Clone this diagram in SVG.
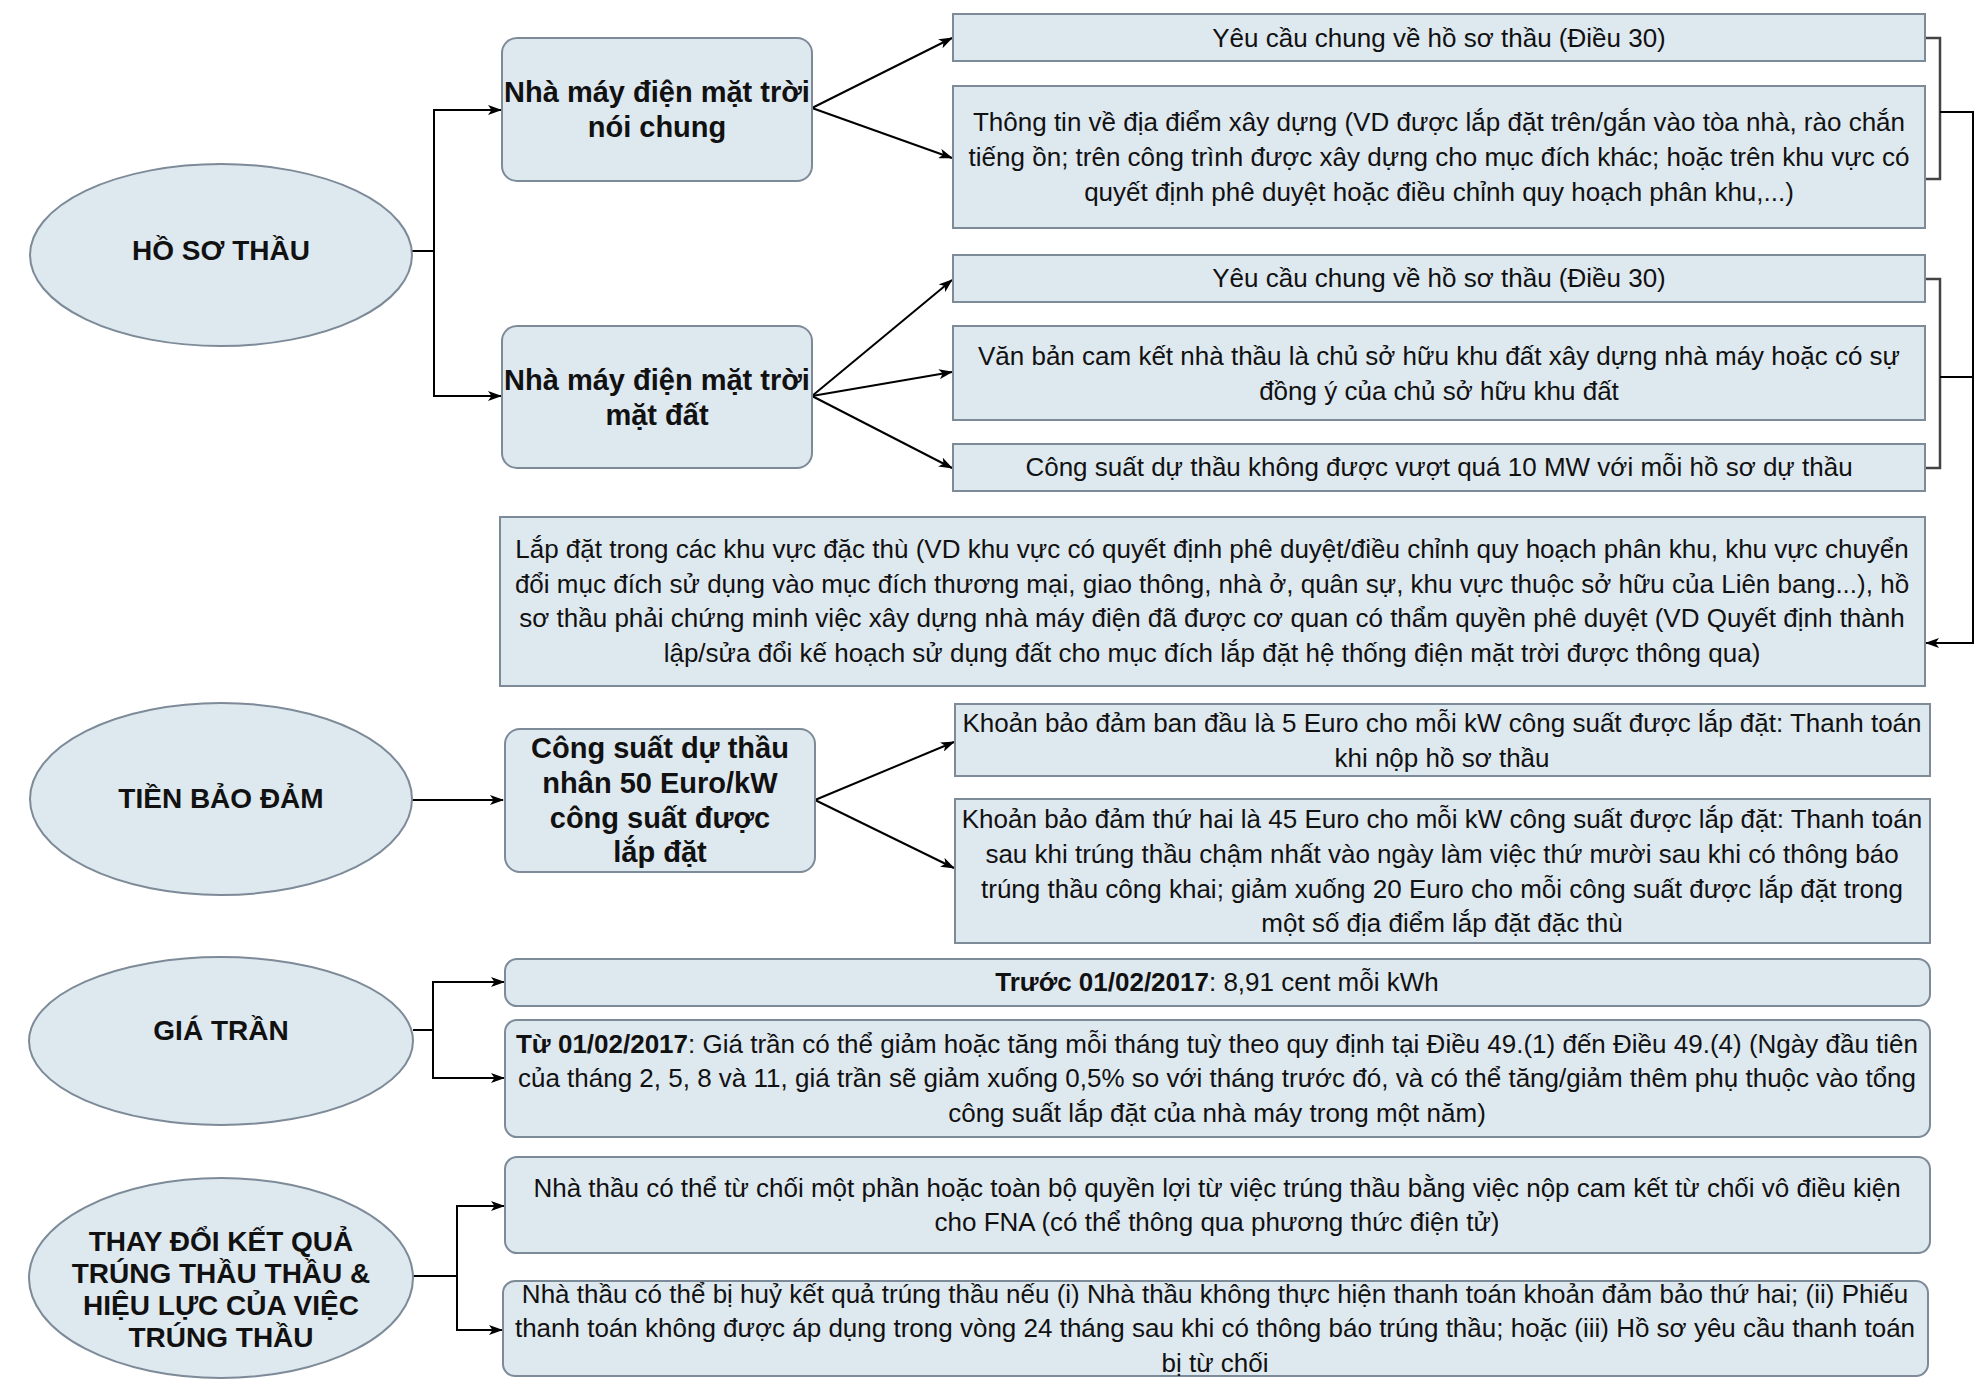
<svg xmlns="http://www.w3.org/2000/svg" width="1979" height="1384" viewBox="0 0 1979 1384">
<style>
.n{fill:#dee8ef;stroke:#7d8a98;stroke-width:2}
.t{font-family:"Liberation Sans",Arial,sans-serif;font-size:26px;fill:#111;text-anchor:middle}
.b{font-family:"Liberation Sans",Arial,sans-serif;font-size:29px;font-weight:bold;fill:#111;text-anchor:middle}
.e{font-family:"Liberation Sans",Arial,sans-serif;font-size:28px;font-weight:bold;fill:#111;text-anchor:middle}
.c{fill:none;stroke:#000;stroke-width:2}
.k{fill:none;stroke:#444;stroke-width:2.5}
</style>
<defs>
<marker id="arr" viewBox="0 0 14 10" refX="13" refY="5" markerWidth="14" markerHeight="10" orient="auto" markerUnits="userSpaceOnUse">
<path d="M0,0 L14,5 L0,10 L3.5,5 z" fill="#000"/>
</marker>
</defs>
<rect width="1979" height="1384" fill="#fff"/>

<g id="connectors">
<path class="c" d="M412,251 H434 V110 H501" marker-end="url(#arr)"/>
<path class="c" d="M412,251 H434 V396 H501" marker-end="url(#arr)"/>
<path class="c" d="M812,108 L952,38" marker-end="url(#arr)"/>
<path class="c" d="M812,108 L952,158" marker-end="url(#arr)"/>
<path class="c" d="M812,396 L952,280" marker-end="url(#arr)"/>
<path class="c" d="M812,396 L952,372" marker-end="url(#arr)"/>
<path class="c" d="M812,396 L952,468" marker-end="url(#arr)"/>
<path class="k" d="M1925,38 H1940 V179 H1925"/>
<path class="k" d="M1925,279 H1940 V468 H1925"/>
<path class="c" d="M1940,112 H1973 V643 H1926" marker-end="url(#arr)"/>
<path class="c" d="M1940,377 H1973"/>
<path class="c" d="M412,800 H503" marker-end="url(#arr)"/>
<path class="c" d="M815,800 L954,742" marker-end="url(#arr)"/>
<path class="c" d="M815,800 L954,868" marker-end="url(#arr)"/>
<path class="c" d="M413,1030 H433 V982 H504" marker-end="url(#arr)"/>
<path class="c" d="M413,1030 H433 V1078 H504" marker-end="url(#arr)"/>
<path class="c" d="M412,1276 H457 V1206 H504" marker-end="url(#arr)"/>
<path class="c" d="M412,1276 H457 V1330 H502" marker-end="url(#arr)"/>
</g>

<g id="ho-so-thau">
<ellipse class="n" cx="221" cy="255" rx="191" ry="91"/>
<text class="e" x="221" y="260">HỒ SƠ THẦU</text>
</g>

<g id="nm-noi-chung">
<rect class="n" x="502" y="38" width="310" height="143" rx="15"/>
<text class="b" x="657" y="102">Nhà máy điện mặt trời</text>
<text class="b" x="657" y="137">nói chung</text>
</g>

<g id="nm-mat-dat">
<rect class="n" x="502" y="326" width="310" height="142" rx="15"/>
<text class="b" x="657" y="390">Nhà máy điện mặt trời</text>
<text class="b" x="657" y="425">mặt đất</text>
</g>

<g id="yc1">
<rect class="n" x="953" y="14" width="972" height="47"/>
<text class="t" x="1439" y="47">Yêu cầu chung về hồ sơ thầu (Điều 30)</text>
</g>

<g id="thong-tin">
<rect class="n" x="953" y="86" width="972" height="142"/>
<text class="t" x="1439" y="131">Thông tin về địa điểm xây dựng (VD được lắp đặt trên/gắn vào tòa nhà, rào chắn</text>
<text class="t" x="1439" y="166">tiếng ồn; trên công trình được xây dựng cho mục đích khác; hoặc trên khu vực có</text>
<text class="t" x="1439" y="201">quyết định phê duyệt hoặc điều chỉnh quy hoạch phân khu,...)</text>
</g>

<g id="yc2">
<rect class="n" x="953" y="255" width="972" height="47"/>
<text class="t" x="1439" y="287">Yêu cầu chung về hồ sơ thầu (Điều 30)</text>
</g>

<g id="van-ban">
<rect class="n" x="953" y="326" width="972" height="94"/>
<text class="t" x="1439" y="365">Văn bản cam kết nhà thầu là chủ sở hữu khu đất xây dựng nhà máy hoặc có sự</text>
<text class="t" x="1439" y="400">đồng ý của chủ sở hữu khu đất</text>
</g>

<g id="cong-suat-10mw">
<rect class="n" x="953" y="444" width="972" height="47"/>
<text class="t" x="1439" y="476">Công suất dự thầu không được vượt quá 10 MW với mỗi hồ sơ dự thầu</text>
</g>

<g id="lap-dat-dac-thu">
<rect class="n" x="500" y="517" width="1425" height="169"/>
<text class="t" x="1212" y="558">Lắp đặt trong các khu vực đặc thù (VD khu vực có quyết định phê duyệt/điều chỉnh quy hoạch phân khu, khu vực chuyển</text>
<text class="t" x="1212" y="593">đổi mục đích sử dụng vào mục đích thương mại, giao thông, nhà ở, quân sự, khu vực thuộc sở hữu của Liên bang...), hồ</text>
<text class="t" x="1212" y="627">sơ thầu phải chứng minh việc xây dựng nhà máy điện đã được cơ quan có thẩm quyền phê duyệt (VD Quyết định thành</text>
<text class="t" x="1212" y="662">lập/sửa đổi kế hoạch sử dụng đất cho mục đích lắp đặt hệ thống điện mặt trời được thông qua)</text>
</g>

<g id="tien-bao-dam">
<ellipse class="n" cx="221" cy="799" rx="191" ry="96"/>
<text class="e" x="221" y="808">TIỀN BẢO ĐẢM</text>
</g>

<g id="cong-suat-50">
<rect class="n" x="505" y="729" width="310" height="143" rx="15"/>
<text class="b" x="660" y="758">Công suất dự thầu</text>
<text class="b" x="660" y="793">nhân 50 Euro/kW</text>
<text class="b" x="660" y="828">công suất được</text>
<text class="b" x="660" y="862">lắp đặt</text>
</g>

<g id="khoan-1">
<rect class="n" x="955" y="704" width="975" height="72"/>
<text class="t" x="1442" y="732">Khoản bảo đảm ban đầu là 5 Euro cho mỗi kW công suất được lắp đặt: Thanh toán</text>
<text class="t" x="1442" y="767">khi nộp hồ sơ thầu</text>
</g>

<g id="khoan-2">
<rect class="n" x="955" y="799" width="975" height="144"/>
<text class="t" x="1442" y="828">Khoản bảo đảm thứ hai là 45 Euro cho mỗi kW công suất được lắp đặt: Thanh toán</text>
<text class="t" x="1442" y="863">sau khi trúng thầu chậm nhất vào ngày làm việc thứ mười sau khi có thông báo</text>
<text class="t" x="1442" y="898">trúng thầu công khai; giảm xuống 20 Euro cho mỗi công suất được lắp đặt trong</text>
<text class="t" x="1442" y="932">một số địa điểm lắp đặt đặc thù</text>
</g>

<g id="gia-tran">
<ellipse class="n" cx="221" cy="1041" rx="192" ry="84"/>
<text class="e" x="221" y="1040">GIÁ TRẦN</text>
</g>

<g id="truoc">
<rect class="n" x="505" y="959" width="1425" height="47" rx="12"/>
<text class="t" x="1217" y="991"><tspan font-weight="bold">Trước 01/02/2017</tspan>: 8,91 cent mỗi kWh</text>
</g>

<g id="tu">
<rect class="n" x="505" y="1020" width="1425" height="117" rx="12"/>
<text class="t" x="1217" y="1053"><tspan font-weight="bold">Từ 01/02/2017</tspan>: Giá trần có thể giảm hoặc tăng mỗi tháng tuỳ theo quy định tại Điều 49.(1) đến Điều 49.(4) (Ngày đầu tiên</text>
<text class="t" x="1217" y="1087">của tháng 2, 5, 8 và 11, giá trần sẽ giảm xuống 0,5% so với tháng trước đó, và có thể tăng/giảm thêm phụ thuộc vào tổng</text>
<text class="t" x="1217" y="1122">công suất lắp đặt của nhà máy trong một năm)</text>
</g>

<g id="thay-doi">
<ellipse class="n" cx="221" cy="1278" rx="192" ry="100"/>
<text class="e" x="221" y="1251">THAY ĐỔI KẾT QUẢ</text>
<text class="e" x="221" y="1283">TRÚNG THẦU THẦU &amp;</text>
<text class="e" x="221" y="1315">HIỆU LỰC CỦA VIỆC</text>
<text class="e" x="221" y="1347">TRÚNG THẦU</text>
</g>

<g id="tu-choi">
<rect class="n" x="505" y="1157" width="1425" height="96" rx="12"/>
<text class="t" x="1217" y="1197">Nhà thầu có thể từ chối một phần hoặc toàn bộ quyền lợi từ việc trúng thầu bằng việc nộp cam kết từ chối vô điều kiện</text>
<text class="t" x="1217" y="1231">cho FNA (có thể thông qua phương thức điện tử)</text>
</g>

<g id="huy">
<rect class="n" x="503" y="1281" width="1425" height="95" rx="12"/>
<text class="t" x="1215" y="1303">Nhà thầu có thể bị huỷ kết quả trúng thầu nếu (i) Nhà thầu không thực hiện thanh toán khoản đảm bảo thứ hai; (ii) Phiếu</text>
<text class="t" x="1215" y="1337">thanh toán không được áp dụng trong vòng 24 tháng sau khi có thông báo trúng thầu; hoặc (iii) Hồ sơ yêu cầu thanh toán</text>
<text class="t" x="1215" y="1372">bị từ chối</text>
</g>
</svg>
